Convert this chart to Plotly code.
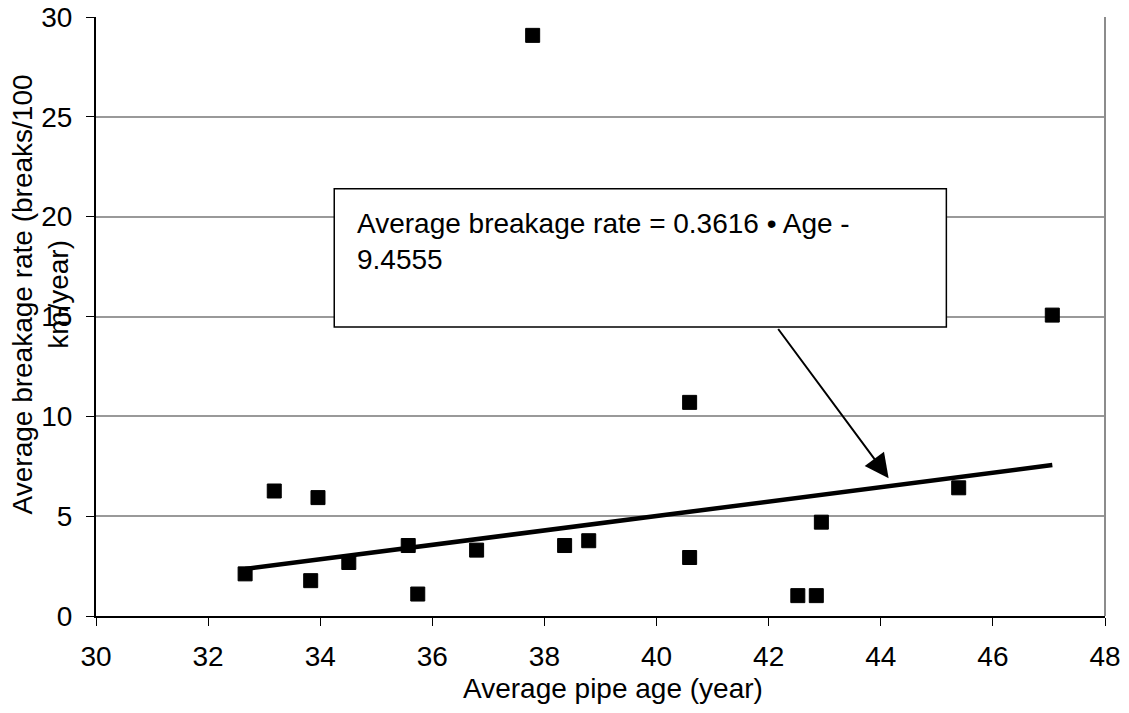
import plotly.graph_objects as go

# Average pipe age (years) and average breakage rate (breaks/100 km/year)
ages = [32.66, 33.18, 33.83, 33.96, 34.51, 35.57, 35.74, 36.79, 37.79,
        38.36, 38.79, 40.59, 40.59, 42.52, 42.85, 42.94, 45.39, 47.06]
rates = [2.11, 6.26, 1.77, 5.93, 2.68, 3.53, 1.10, 3.30, 29.08,
         3.53, 3.77, 10.70, 2.93, 1.02, 1.02, 4.70, 6.42, 15.07]

# Linear fit stated on the chart
slope = 0.3616
intercept = -9.4555

x_ticks = list(range(30, 49, 2))
y_ticks = list(range(0, 31, 5))

FONT = "Arial, Liberation Sans, sans-serif"
FS = 28

fit_x = [min(ages), max(ages)]
fit_y = [slope * v + intercept for v in fit_x]

fig = go.Figure()

fig.add_trace(go.Scatter(
    x=fit_x, y=fit_y, mode="lines",
    line=dict(color="black", width=4.5),
    hoverinfo="skip", showlegend=False,
))

fig.add_trace(go.Scatter(
    x=ages, y=rates, mode="markers",
    marker=dict(symbol="square", size=14, color="black",
                line=dict(color="black", width=1)),
    showlegend=False,
))

# Equation call-out box
fig.add_shape(type="rect", xref="x", yref="y",
              x0=34.25, x1=45.17, y0=14.48, y1=21.4,
              fillcolor="white", line=dict(color="black", width=1.5),
              layer="above")

fig.add_annotation(
    xref="x", yref="y", x=34.62, y=18.75,
    xanchor="left", yanchor="middle", align="left",
    text=f"Average breakage rate = {slope} \u2022 Age -<br>{abs(intercept)}",
    showarrow=False, font=dict(family=FONT, size=FS, color="black"),
)

# Arrow from the box to the fitted line
fig.add_annotation(
    xref="x", yref="y", x=44.14, y=6.9,
    axref="x", ayref="y", ax=42.15, ay=14.45,
    text="", showarrow=True, arrowhead=2, arrowsize=2.4,
    arrowwidth=2, arrowcolor="black",
)

# Axis titles
fig.add_annotation(
    xref="paper", yref="paper", x=(613.5 - 96.3) / 1008.7, y=(616.3 - 689) / 600,
    xanchor="center", yanchor="middle", showarrow=False,
    text="Average pipe age (year)",
    font=dict(family=FONT, size=FS, color="black"),
)
fig.add_annotation(
    xref="paper", yref="paper", x=(40.5 - 96.3) / 1008.7, y=(616.3 - 294) / 600,
    xanchor="center", yanchor="middle", showarrow=False, textangle=-90,
    text="Average breakage rate (breaks/100<br>km/year)",
    font=dict(family=FONT, size=FS, color="black"),
)

# Right border of the plot area
fig.add_shape(type="line", xref="paper", yref="paper",
              x0=1, x1=1, y0=0, y1=1, line=dict(color="#8c8c8c", width=2))

fig.update_xaxes(
    range=[30, 48], tickvals=x_ticks, ticks="outside", ticklen=8,
    tickcolor="black", tickwidth=1, showline=True, linecolor="black",
    linewidth=2, showgrid=False, zeroline=False, automargin=False,
    ticklabelstandoff=6,
    tickfont=dict(family=FONT, size=FS, color="black"),
)
fig.update_yaxes(
    range=[0, 30], tickvals=y_ticks, ticks="outside", ticklen=8,
    tickcolor="black", tickwidth=1, showline=True, linecolor="black",
    linewidth=2, showgrid=True, gridcolor="#999999", gridwidth=1.5,
    zeroline=False, automargin=False, ticklabelstandoff=8,
    tickfont=dict(family=FONT, size=FS, color="black"),
)

fig.update_layout(
    width=1129, height=713,
    margin=dict(l=96, r=24, t=17, b=97, pad=0),
    paper_bgcolor="white", plot_bgcolor="white",
    font=dict(family=FONT, size=FS, color="black"),
)

fig.write_html("out.html")
